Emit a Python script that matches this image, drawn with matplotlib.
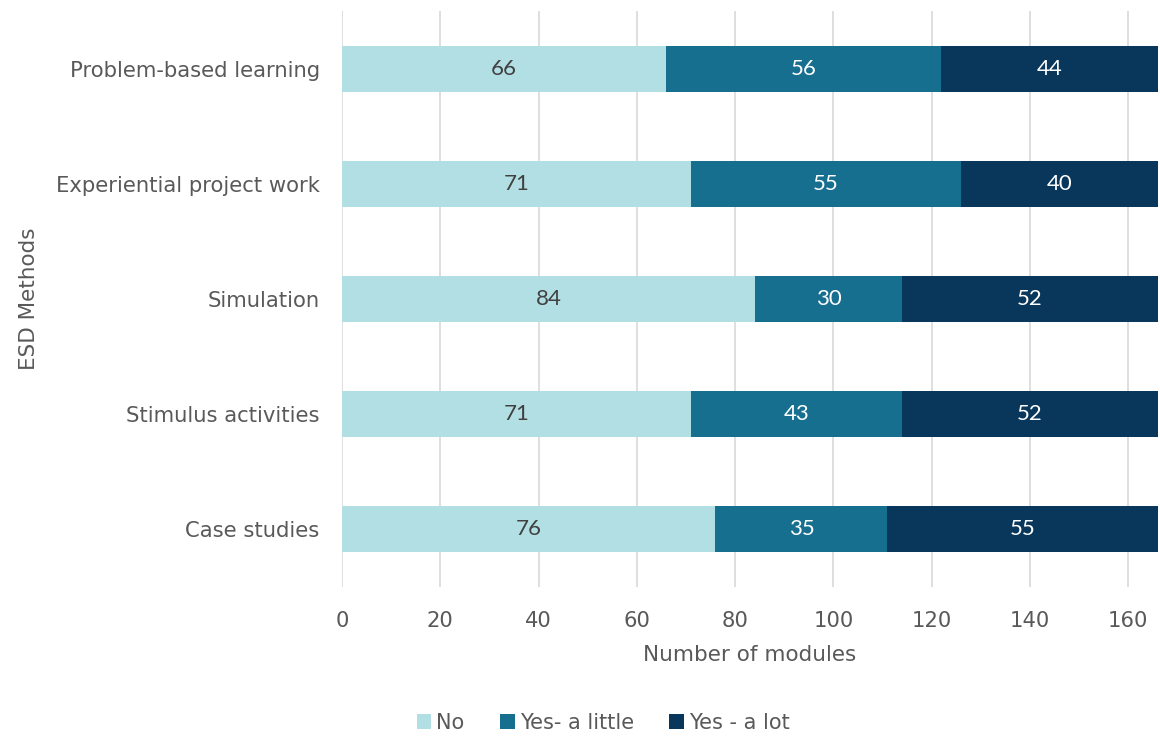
import matplotlib
matplotlib.use("Agg")
import matplotlib.pyplot as plt
import numpy as np

categories = ["Case studies", "Stimulus activities", "Simulation",
              "Experiential project work", "Problem-based learning"]
no_vals = [76, 71, 84, 71, 66]
little_vals = [35, 43, 30, 55, 56]
lot_vals = [55, 52, 52, 40, 44]
series_names = ["No", "Yes- a little", "Yes - a lot"]
colors = ["#B2DFE3", "#176F8F", "#08375B"]
label_colors = ["#404040", "white", "white"]

plt.rcParams['font.family'] = ['DejaVu Sans']

fig = plt.figure(figsize=(11.6, 7.38), dpi=100)
ax = fig.add_axes([0.2948, 0.2046, 0.7032, 0.7804])

y = np.arange(len(categories))
left = np.zeros(len(categories))
for vals, name, c, lc in zip([no_vals, little_vals, lot_vals], series_names, colors, label_colors):
    bars = ax.barh(y, vals, left=left, height=0.4, color=c, label=name, zorder=3)
    for b, v in zip(bars, vals):
        ax.text(b.get_x() + b.get_width() / 2, b.get_y() + b.get_height() / 2, str(v),
                ha='center', va='center', color=lc, fontsize=16, family='Lato', zorder=4)
    left += np.array(vals)

ax.set_xlim(0, 166)
ax.set_ylim(-0.5, len(categories) - 0.5)
ax.set_xticks(np.arange(0, 161, 20))
ax.set_yticks(y)
ax.set_yticklabels(categories)
ax.grid(axis='x', color='#D9D9D9', linewidth=1.2, zorder=0)
for s in ax.spines.values():
    s.set_visible(False)
ax.tick_params(axis='both', length=0, labelsize=15.2, labelcolor='#595959')
ax.tick_params(axis='x', pad=17)
ax.tick_params(axis='y', pad=16)
ax.set_xlabel("Number of modules", fontsize=15.5, color='#595959', labelpad=10)
ax.set_ylabel("ESD Methods", fontsize=15.5, color='#595959', labelpad=12)

fig.legend(loc='lower center', bbox_to_anchor=(0.52, -0.018), ncol=3, frameon=False,
           fontsize=15, labelcolor='#595959', handlelength=0.7, handleheight=0.7,
           handletextpad=0.25, columnspacing=1.7)

fig.savefig("out.png", dpi=100)
